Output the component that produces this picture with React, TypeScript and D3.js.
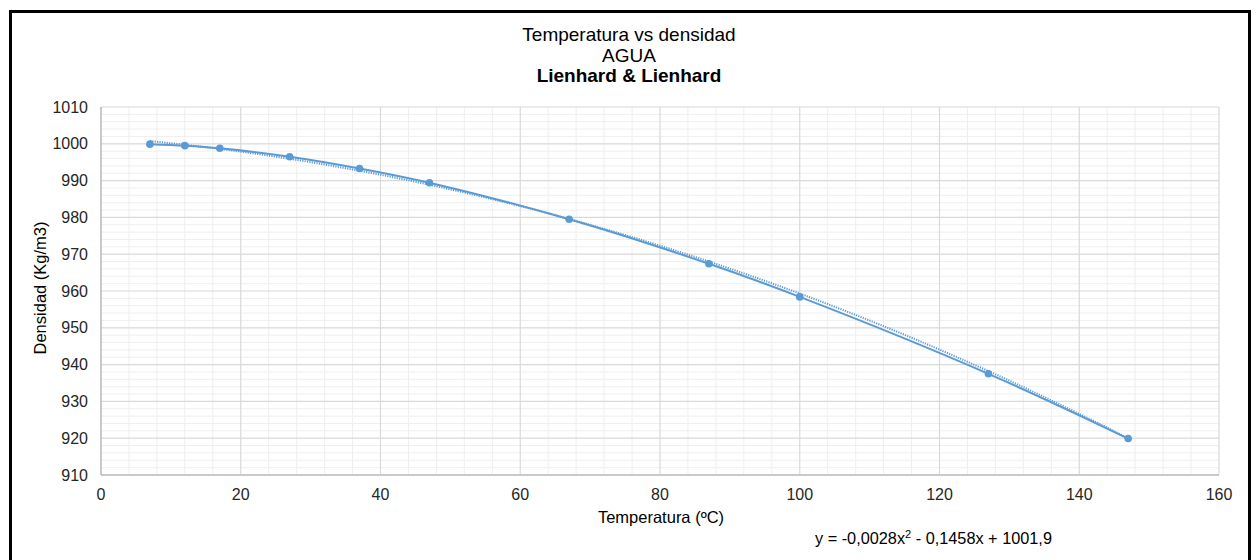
import React from 'react';
import * as d3 from 'd3';

// datos (Lienhard & Lienhard)
const temperaturas = [7, 12, 17, 27, 37, 47, 67, 87, 100, 127, 147];
const densidades = [999.9, 999.5, 998.8, 996.5, 993.3, 989.4, 979.5, 967.4, 958.4, 937.5, 919.9];
const xTicks = [0, 20, 40, 60, 80, 100, 120, 140, 160];
const yTicks = [910, 920, 930, 940, 950, 960, 970, 980, 990, 1000, 1010];
// coeficientes de la línea de tendencia polinómica (a, b, c)
const trendCoef = [-0.0028, -0.1458, 1001.9];

const W = 1256, H = 560;
const p = { left: 101, right: 1219, top: 107, bottom: 475 };
const blue = '#5b9bd5';
const font = 'Arial, "Liberation Sans", sans-serif';

export default function App() {
  const x = d3.scaleLinear().domain([0, 160]).range([p.left, p.right]);
  const y = d3.scaleLinear().domain([910, 1010]).range([p.bottom, p.top]);

  const data = temperaturas.map((t, i) => [t, densidades[i]] as [number, number]);

  const line = d3.line<[number, number]>()
    .x(d => x(d[0]))
    .y(d => y(d[1]))
    .curve(d3.curveCatmullRom.alpha(0.5));

  const [a, b, c] = trendCoef;
  const trendX = d3.range(temperaturas[0], temperaturas[temperaturas.length - 1] + 0.01, 1);
  const trend = trendX.map(t => [t, a * t * t + b * t + c] as [number, number]);
  const trendLine = d3.line<[number, number]>().x(d => x(d[0])).y(d => y(d[1]));

  // minor grid: 5 divisions per major
  const xMinor = d3.range(0, 160.01, 4).filter(v => v % 20 !== 0);
  const yMinor = d3.range(910, 1010.01, 2).filter(v => v % 10 !== 0);

  return (
    <svg width={W} height={H} style={{ position: 'absolute', left: 0, top: 0, background: '#fff' }}
         fontFamily={font}>
      <rect x={10.5} y={11.5} width={1239} height={560} fill="#fff" stroke="#000" strokeWidth={3} />

      <g fill="#000" textAnchor="middle" fontSize={19}>
        <text x={629} y={41}>Temperatura vs densidad</text>
        <text x={629} y={62}>AGUA</text>
        <text x={629} y={82} fontWeight="bold">Lienhard &amp; Lienhard</text>
      </g>

      {/* grid */}
      <g>
        {xMinor.map(v => (
          <line key={'xm' + v} x1={x(v)} x2={x(v)} y1={p.top} y2={p.bottom} stroke="#efefef" strokeWidth={1} />
        ))}
        {yMinor.map(v => (
          <line key={'ym' + v} x1={p.left} x2={p.right} y1={y(v)} y2={y(v)} stroke="#efefef" strokeWidth={1} />
        ))}
        {xTicks.map(v => (
          <line key={'x' + v} x1={x(v)} x2={x(v)} y1={p.top} y2={p.bottom} stroke="#d9d9d9" strokeWidth={1.2} />
        ))}
        {yTicks.map(v => (
          <line key={'y' + v} x1={p.left} x2={p.right} y1={y(v)} y2={y(v)} stroke="#d9d9d9" strokeWidth={1.2} />
        ))}
        <line x1={p.left} x2={p.left} y1={p.top} y2={p.bottom} stroke="#bfbfbf" strokeWidth={1.5} />
        <line x1={p.left} x2={p.right} y1={p.bottom} y2={p.bottom} stroke="#bfbfbf" strokeWidth={1.5} />
      </g>

      {/* tick labels */}
      <g fontSize={16} fill="#262626">
        {yTicks.map(v => (
          <text key={'yt' + v} x={88} y={y(v) + 5.5} textAnchor="end">{v}</text>
        ))}
        {xTicks.map(v => (
          <text key={'xt' + v} x={x(v)} y={500} textAnchor="middle">{v}</text>
        ))}
      </g>

      <text x={661} y={523} textAnchor="middle" fontSize={16.5} fill="#000">Temperatura (ºC)</text>
      <text transform={`translate(46,288) rotate(-90)`} textAnchor="middle"
            fontSize={16.5} fill="#000">Densidad (Kg/m3)</text>

      {/* trendline */}
      <path d={trendLine(trend) || ''} fill="none" stroke={blue} strokeWidth={2} strokeDasharray="1.2,1.2" />
      {/* series */}
      <path d={line(data) || ''} fill="none" stroke={blue} strokeWidth={2} />
      {data.map((d, i) => (
        <circle key={i} cx={x(d[0])} cy={y(d[1])} r={3.8} fill={blue} />
      ))}

      <text x={815} y={544} fontSize={16.3} fill="#000">
        y = -0,0028x<tspan dy={-6} fontSize={11}>2</tspan><tspan dy={6}> - 0,1458x + 1001,9</tspan>
      </text>
    </svg>
  );
}
